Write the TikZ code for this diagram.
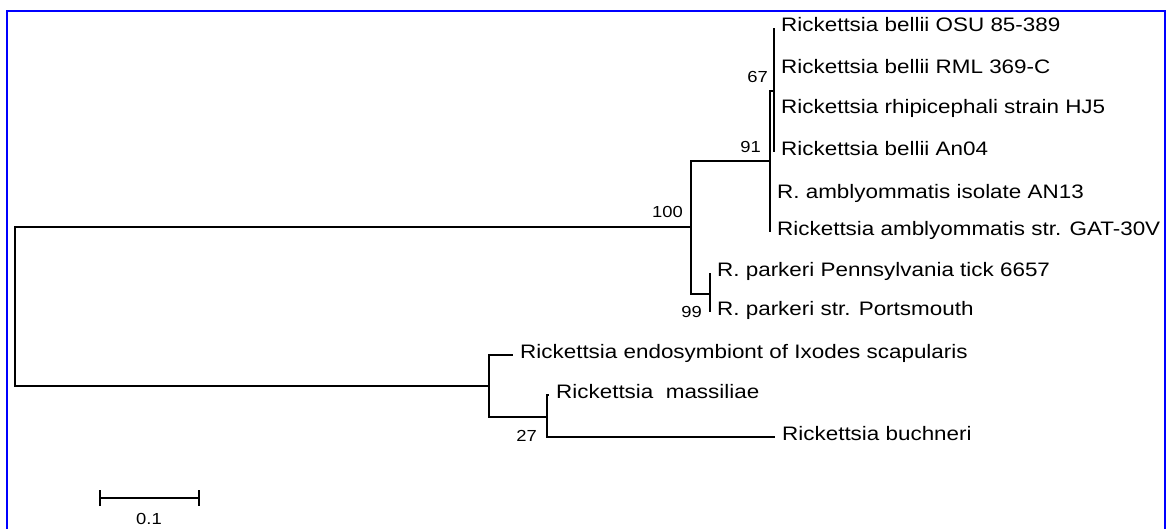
\documentclass[tikz,border=0pt]{standalone}
\usepackage{fontspec}
\setmainfont{Liberation Sans}[FakeStretch=1.15]
\usetikzlibrary{arrows.meta,positioning}

\tikzset{
  branch/.style={line width=1.8pt},
  taxon/.style={inner sep=0pt, font=\fontsize{19.5}{20}\selectfont, text height=0.72em, text depth=0pt},
  boot/.style={inner sep=0pt, font=\fontsize{16}{17}\selectfont},
}

\begin{document}
\begin{tikzpicture}[x=1pt,y=-1pt]
\useasboundingbox (0,0) rectangle (1167,529);
\draw[blue, line width=2pt] (7,529) -- (7,11) -- (1165,11) -- (1165,529);

% inner nodes of the tree
\coordinate (root) at (15,306);
\coordinate (n100) at (691,227);
\coordinate (n91) at (770,161);
\coordinate (n67) at (774,91);
\coordinate (n99) at (710,294);
\coordinate (nb) at (489,386);
\coordinate (n27) at (547,417);

% tips
\foreach \name/\x/\y in {osu/774/28, rml/774/70, hj5/774/110, an04/774/152, an13/770/195, gat/770/232, penn/710/273, ports/710/312, endo/513/355, mass/549/395, buch/775/437}
	\coordinate (\name) at (\x,\y);

\foreach \a/\b in {root/n100, root/nb, n100/n91, n100/n99, n91/n67, n91/an13, n91/gat, n67/osu, n67/rml, n67/hj5, n67/an04, n99/penn, n99/ports, nb/endo, nb/n27, n27/mass, n27/buch}
	\draw[branch] (\a) |- (\b);

\foreach \name/\txt in {osu/Rickettsia bellii OSU 85-389, rml/Rickettsia bellii RML 369-C, hj5/Rickettsia rhipicephali strain HJ5, an04/Rickettsia bellii An04, an13/R. amblyommatis isolate AN13, gat/Rickettsia amblyommatis str. GAT-30V, penn/R. parkeri Pennsylvania tick 6657, ports/R. parkeri str. Portsmouth, endo/Rickettsia endosymbiont of Ixodes scapularis, mass/Rickettsia\ \ massiliae, buch/Rickettsia buchneri}
	\node[taxon, right=7pt of \name] (l\name) {\txt};

\node[boot, anchor=east] (b67) at (768,77) {67};
\node[boot, anchor=east] (b91) at (761,147) {91};
\node[boot, anchor=east] (b100) at (683,212) {100};
\node[boot, anchor=east] (b99) at (702,312) {99};
\node[boot, anchor=east] (b27) at (537,436) {27};

% scale bar
\coordinate (sbl) at (99,498);
\coordinate (sbr) at (200,498);
\draw[branch, {Bar[width=16pt]}-{Bar[width=16pt]}] (sbl) -- (sbr);
\node[boot] (sbtxt) at (149,519) {0.1};

\end{tikzpicture}
\end{document}
